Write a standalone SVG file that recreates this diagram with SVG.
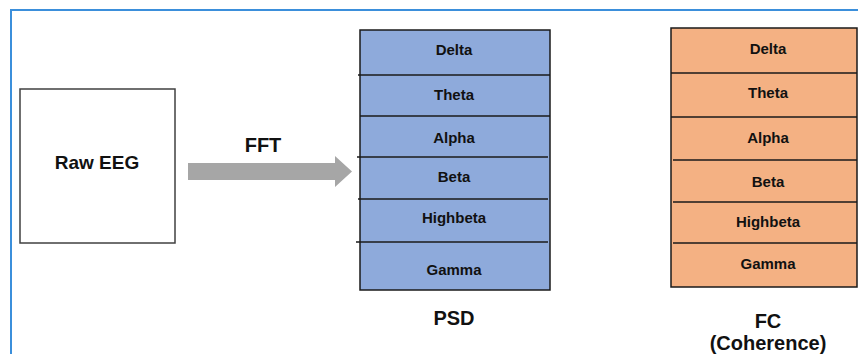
<svg xmlns="http://www.w3.org/2000/svg" width="858" height="354" viewBox="0 0 858 354">
<style>
text{font-family:"Liberation Sans",Arial,sans-serif;font-weight:bold;fill:#111;text-anchor:middle}
.band{font-size:15px}
.lbl{font-size:20px}
.div{stroke:#1a1a1a;stroke-width:1.5}
</style>
<rect width="858" height="354" fill="#fff"/>
<rect x="11" y="10" width="900" height="400" fill="none" stroke="#3b8fdb" stroke-width="2"/>
<g id="raw-eeg">
<rect x="20" y="89" width="155" height="154" fill="#fff" stroke="#404040" stroke-width="1.5"/>
<text x="97" y="169" style="font-size:19px">Raw EEG</text>
</g>
<g id="connectors">
<polygon points="188,163 335,163 335,156 352,171.5 335,187 335,180 188,180" fill="#a6a6a6"/>
<text x="263" y="152" class="lbl">FFT</text>
</g>
<g id="psd">
<rect x="360" y="30" width="190" height="260" fill="#8eaadb" stroke="#1a1a1a" stroke-width="1.5"/>
<line class="div" x1="358" y1="75" x2="550" y2="75"/>
<line class="div" x1="360" y1="116" x2="550" y2="116"/>
<line class="div" x1="357" y1="157" x2="548" y2="157"/>
<line class="div" x1="358" y1="199" x2="548" y2="199"/>
<line class="div" x1="356" y1="242" x2="548" y2="242"/>
<text x="454" y="55" class="band">Delta</text>
<text x="454" y="100" class="band">Theta</text>
<text x="454" y="143" class="band">Alpha</text>
<text x="454" y="182" class="band">Beta</text>
<text x="454" y="223" class="band">Highbeta</text>
<text x="454" y="275" class="band">Gamma</text>
<text x="454" y="325" class="lbl">PSD</text>
</g>
<g id="fc">
<rect x="671" y="28" width="186" height="259" fill="#f4b183" stroke="#1a1a1a" stroke-width="1.5"/>
<line class="div" x1="671" y1="73" x2="857" y2="73"/>
<line class="div" x1="671" y1="117" x2="857" y2="117"/>
<line class="div" x1="673" y1="160" x2="857" y2="160"/>
<line class="div" x1="673" y1="202" x2="857" y2="202"/>
<line class="div" x1="673" y1="243" x2="857" y2="243"/>
<text x="768" y="54" class="band">Delta</text>
<text x="768" y="98" class="band">Theta</text>
<text x="768" y="143" class="band">Alpha</text>
<text x="768" y="187" class="band">Beta</text>
<text x="768" y="227" class="band">Highbeta</text>
<text x="768" y="269" class="band">Gamma</text>
<text x="768" y="328" class="lbl">FC</text>
<text x="768" y="350" class="lbl">(Coherence)</text>
</g>
</svg>
